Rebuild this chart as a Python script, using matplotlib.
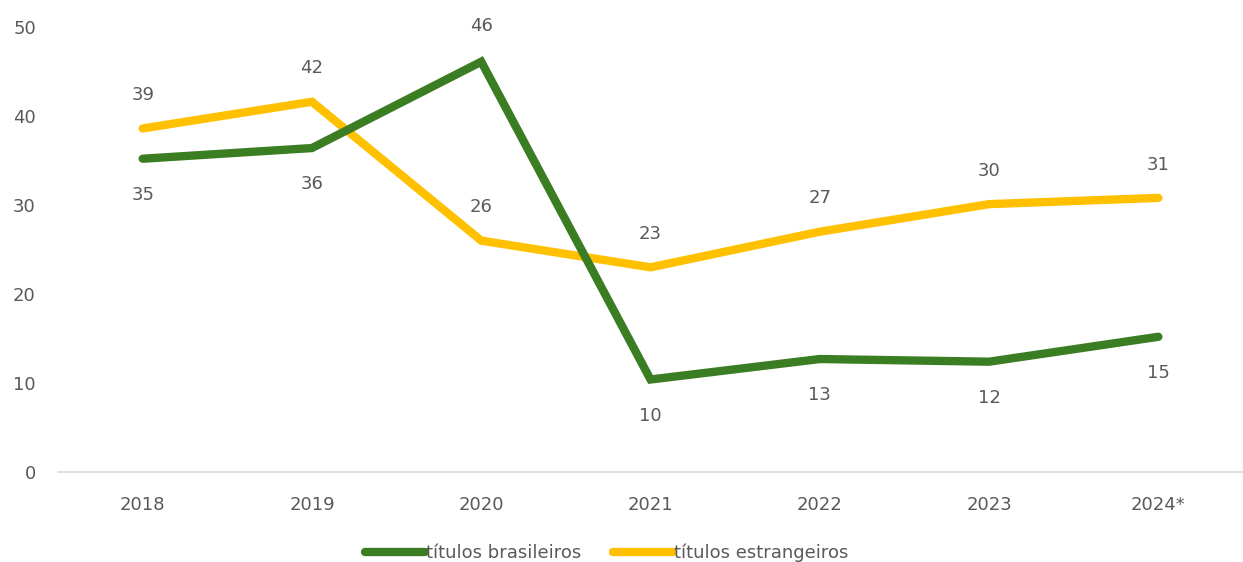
import matplotlib
matplotlib.use("Agg")
import matplotlib.pyplot as plt

plt.rcParams['font.family'] = ['DejaVu Sans']

# dados do gráfico
anos = ["2018", "2019", "2020", "2021", "2022", "2023", "2024*"]
brasileiros = [35.2, 36.4, 46.1, 10.4, 12.7, 12.4, 15.2]
estrangeiros = [38.6, 41.6, 26.0, 23.0, 27.0, 30.1, 30.8]

verde = "#3b7d23"
amarelo = "#ffc000"
cinza = "#595959"

fig = plt.figure(figsize=(12.43, 5.62), dpi=100)
ax = fig.add_axes([0.0467, 0.160, 0.9533, 0.792])

x = list(range(len(anos)))
ax.plot(x, brasileiros, color=verde, lw=6, solid_capstyle="round",
        solid_joinstyle="miter", label="títulos brasileiros", zorder=3)
ax.plot(x, estrangeiros, color=amarelo, lw=6, solid_capstyle="round",
        solid_joinstyle="miter", label="títulos estrangeiros", zorder=2)

# rótulos de dados
for i, v in enumerate(estrangeiros):
    ax.annotate(f"{v:.0f}", (i, v), xytext=(0, 24), textcoords="offset points",
                ha="center", va="center", fontsize=13, color=cinza)
for i, v in enumerate(brasileiros):
    dy = 26 if i == 2 else -26
    ax.annotate(f"{v:.0f}", (i, v), xytext=(0, dy), textcoords="offset points",
                ha="center", va="center", fontsize=13, color=cinza)

ax.set_xlim(-0.5, len(anos) - 0.5)
ax.set_ylim(0, 50)
ax.set_xticks(x)
ax.set_xticklabels(anos)
ax.set_yticks(range(0, 51, 10))
ax.tick_params(axis="both", length=0, labelsize=13, colors=cinza)
ax.tick_params(axis="x", pad=17)
ax.tick_params(axis="y", pad=16)
for s in ["top", "right", "left"]:
    ax.spines[s].set_visible(False)
ax.spines["bottom"].set_color("#d9d9d9")
ax.spines["bottom"].set_linewidth(1.2)

leg = fig.legend(loc="center", ncol=2, frameon=False, fontsize=13,
                 handlelength=3.3, handletextpad=0.05, columnspacing=1.8,
                 borderpad=0)
leg.set_bbox_to_anchor((0.488, 1 - 553 / 562), transform=fig.transFigure)
for t in leg.get_texts():
    t.set_color(cinza)

fig.savefig("out.png", dpi=100)
